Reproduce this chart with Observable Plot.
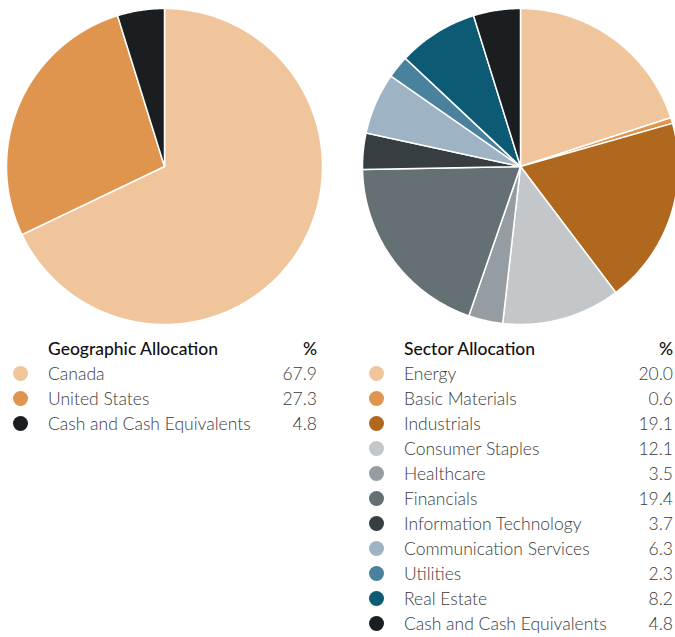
<!DOCTYPE html>
<html><head><meta charset="utf-8">
<script src="https://cdn.jsdelivr.net/npm/d3@7"></script>
<script src="https://cdn.jsdelivr.net/npm/@observablehq/plot@0.6"></script>
<style>
html,body{margin:0;padding:0;background:#fff;overflow:hidden;}
body{width:675px;height:637px;position:relative;font-family:Lato,"Noto Sans",sans-serif;}
.col{position:absolute;top:0;width:328px;}
#left{left:0;}
#right{left:356px;}
.col svg{display:block;max-width:none !important;}
.legend{position:relative;margin-top:6px;}
.row{position:relative;height:25px;line-height:25px;font-size:17.5px;}
.row .dot{position:absolute;left:12.5px;top:4.5px;width:15px;height:15px;border-radius:50%;}
.row .lab{position:absolute;left:48px;color:#3a3a3a;font-weight:300;}
.row .val{position:absolute;right:11px;color:#3a3a3a;font-weight:300;}
.row.head .lab,.row.head .val{color:#111;font-weight:500;}
</style>
</head><body>
<div class="col" id="left"></div>
<div class="col" id="right"></div>
<script>
const geoTitle = "Geographic Allocation";
const geoNames = ["Canada", "United States", "Cash and Cash Equivalents"];
const geoValues = [67.9, 27.3, 4.8];
const geoColors = ["#f0c59c", "#df954d", "#1a1e21"];

const secTitle = "Sector Allocation";
const secNames = ["Energy", "Basic Materials", "Industrials", "Consumer Staples", "Healthcare", "Financials", "Information Technology", "Communication Services", "Utilities", "Real Estate", "Cash and Cash Equivalents"];
const secValues = [20.0, 0.6, 19.1, 12.1, 3.5, 19.4, 3.7, 6.3, 2.3, 8.2, 4.8];
const secColors = ["#f0c59c", "#df954d", "#b0671e", "#c4c7ca", "#959da2", "#647074", "#363e42", "#9eb3c3", "#4a819c", "#0c5a73", "#1a1e21"];

function slices(names, values) {
  const total = d3.sum(values);
  let acc = 0;
  const pts = [];
  names.forEach((n, i) => {
    const a0 = acc / total * 2 * Math.PI;
    acc += values[i];
    const a1 = acc / total * 2 * Math.PI;
    const steps = Math.max(2, Math.ceil((a1 - a0) / (Math.PI / 360)));
    pts.push({name: n, x: 0, y: 0});
    for (let k = 0; k <= steps; k++) {
      const a = a0 + (a1 - a0) * k / steps;
      pts.push({name: n, x: Math.sin(a), y: Math.cos(a)});
    }
  });
  return pts;
}

function pie(names, values, colors) {
  return Plot.plot({
    width: 328, height: 330,
    marginLeft: 6, marginRight: 6, marginTop: 8, marginBottom: 6,
    x: {domain: [-1, 1], axis: null},
    y: {domain: [-1, 1], axis: null},
    color: {domain: names, range: colors},
    marks: [
      Plot.line(slices(names, values), {
        x: "x", y: "y", z: "name", fill: "name",
        stroke: "white", strokeWidth: 1.5, curve: "linear-closed",
        strokeLinejoin: "miter", strokeMiterlimit: 4
      })
    ]
  });
}

function legend(title, names, values, colors) {
  const wrap = document.createElement("div");
  wrap.className = "legend";
  const head = document.createElement("div");
  head.className = "row head";
  head.innerHTML = `<span class="lab"></span><span class="val">%</span>`;
  head.querySelector(".lab").textContent = title;
  wrap.appendChild(head);
  names.forEach((n, i) => {
    const r = document.createElement("div");
    r.className = "row";
    r.innerHTML = `<span class="dot"></span><span class="lab"></span><span class="val"></span>`;
    r.querySelector(".dot").style.background = colors[i];
    r.querySelector(".lab").textContent = n;
    r.querySelector(".val").textContent = values[i].toFixed(1);
    wrap.appendChild(r);
  });
  return wrap;
}

const L = document.getElementById("left");
L.appendChild(pie(geoNames, geoValues, geoColors));
L.appendChild(legend(geoTitle, geoNames, geoValues, geoColors));
const R = document.getElementById("right");
R.appendChild(pie(secNames, secValues, secColors));
R.appendChild(legend(secTitle, secNames, secValues, secColors));
</script>
</body></html>
